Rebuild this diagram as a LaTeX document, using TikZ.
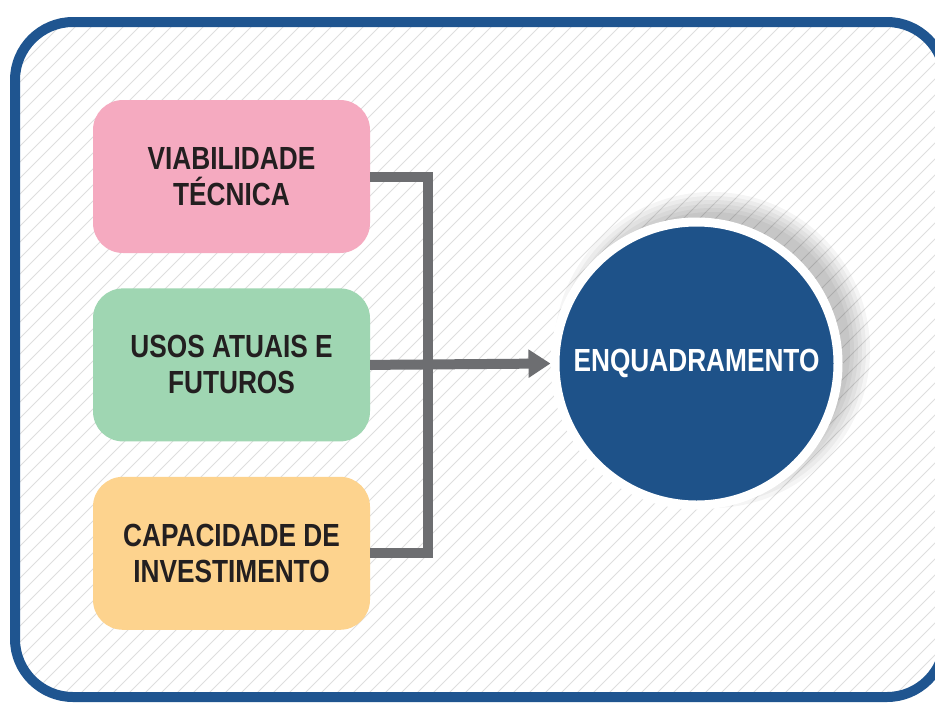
\documentclass[tikz,border=0pt]{standalone}
\usepackage{fontspec}
\newfontfamily\boxfont[FakeStretch=0.82]{Liberation Sans}
\usetikzlibrary{positioning,arrows.meta}
\definecolor{molduraazul}{HTML}{1F5590}
\definecolor{circuloazul}{HTML}{1E5289}
\definecolor{rosa}{HTML}{F5AAC0}
\definecolor{verde}{HTML}{9FD6B2}
\definecolor{laranja}{HTML}{FDD38E}
\definecolor{cinza}{HTML}{6D6E71}
\definecolor{texto}{HTML}{231F20}
\tikzset{
	box/.style={rounded corners=30pt, minimum width=277pt, minimum height=153pt, inner sep=0pt, align=center, text=texto, font=\boxfont\bfseries\fontsize{32}{36}\selectfont},
	conn/.style={draw=cinza, line width=10pt, line cap=butt, line join=miter},
	hatch/.style={draw=black!13, line width=0.9pt}
}
\begin{document}
\begin{tikzpicture}[x=1pt,y=-1pt]
			\clip (0,0) rectangle (935,702);
			\fill[white] (0,0) rectangle (935,702);
			\begin{scope}
				\clip[rounded corners=58pt] (15,22) rectangle (945,697);
				\foreach \i in {-720,-704,...,940}
					\draw[hatch] (\i,710) -- ++(720,-720);
			\end{scope}
			\draw[molduraazul, line width=10pt, rounded corners=58pt] (15,22) rectangle (945,697);
			\node (tech) [box, fill=rosa] at (231.5,176.5) {VIABILIDADE\\TÉCNICA};
			\node (usos) [box, fill=verde, below=35pt of tech] {USOS ATUAIS E\\FUTUROS};
			\node (capac) [box, fill=laranja, below=35pt of usos] {CAPACIDADE DE\\INVESTIMENTO};
			\foreach \r in {138,142,...,158}
				\fill[black, opacity=0.04] (712,350) circle (\r pt);
			\node (enq) [circle, fill=circuloazul, draw=white, line width=9pt, minimum size=283pt, inner sep=0pt, text=white, font=\boxfont\bfseries\fontsize{32}{36}\selectfont] at (696.5,363.5) {ENQUADRAMENTO};
			\coordinate (bus) at (428,364.5);
			\draw[conn] (tech.east) -| (bus) |- (capac.east);
			\draw[conn, -{Triangle[length=22pt, width=27pt]}] (usos.east) -- (enq.west);
		\end{tikzpicture}
\end{document}
